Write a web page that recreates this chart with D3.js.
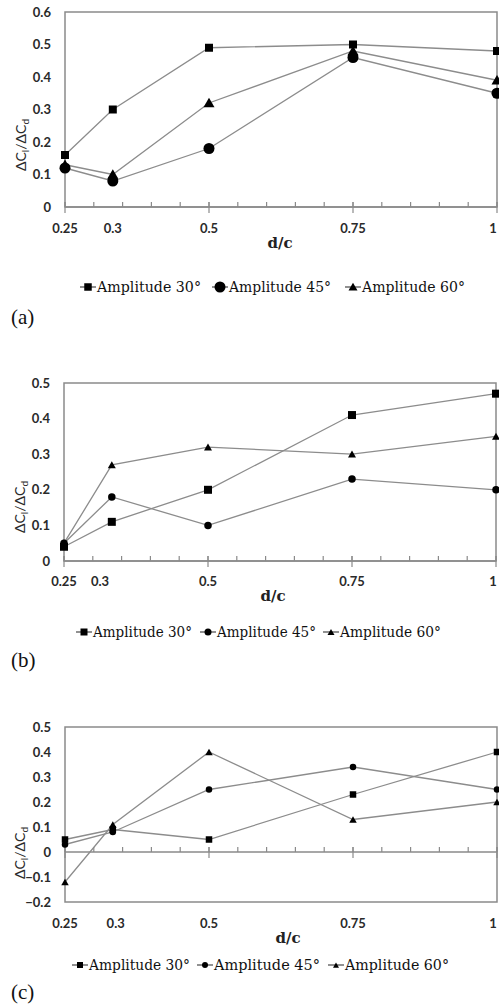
<!DOCTYPE html>
<html>
<head>
<meta charset="utf-8">
<script src="https://cdn.jsdelivr.net/npm/d3@7"></script>
<style>
  html, body { margin: 0; padding: 0; background: #fff; }
  svg { display: block; }
</style>
</head>
<body>
<svg id="fig" width="499" height="1004"></svg>
<script>
// d/c positions of the measurements and the labels printed under them
const dcValues = [0.25, 0.333, 0.5, 0.75, 1];
const dcTickLabels = ["0.25", "0.3", "0.5", "0.75", "1"];
const seriesNames = ["Amplitude 30°", "Amplitude 45°", "Amplitude 60°"];
const seriesNamesC = ["Amplitude 30°", "Amplitude  45°", "Amplitude  60°"];

// (a) lift-to-drag gain ratio
const a30 = [0.16, 0.30, 0.49, 0.50, 0.48];
const a45 = [0.12, 0.08, 0.18, 0.46, 0.35];
const a60 = [0.13, 0.10, 0.32, 0.48, 0.39];
const aYTicks = [0, 0.1, 0.2, 0.3, 0.4, 0.5, 0.6];

// (b)
const b30 = [0.04, 0.11, 0.20, 0.41, 0.47];
const b45 = [0.05, 0.18, 0.10, 0.23, 0.20];
const b60 = [0.05, 0.27, 0.32, 0.30, 0.35];
const bYTicks = [0, 0.1, 0.2, 0.3, 0.4, 0.5];

// (c)
const c30 = [0.05, 0.09, 0.05, 0.23, 0.40];
const c45 = [0.03, 0.08, 0.25, 0.34, 0.25];
const c60 = [-0.12, 0.11, 0.40, 0.13, 0.20];
const cYTicks = [-0.2, -0.1, 0, 0.1, 0.2, 0.3, 0.4, 0.5];

const svg = d3.select("#fig");
const frameColor = "#8a8a8a";
const lineColor = "#8c8c8c";
const tickFont = "Lato, 'Open Sans', sans-serif";
const serifFont = "'DejaVu Serif', serif";

const shapes = [d3.symbolSquare, d3.symbolCircle, d3.symbolTriangle];
// convert a visual width (px) into a d3.symbol area
function symbolArea(shape, w) {
  if (shape === d3.symbolSquare) return w * w;
  if (shape === d3.symbolCircle) return Math.PI * (w / 2) * (w / 2);
  return Math.sqrt(3) / 4 * w * w;
}

function drawPanel(cfg) {
  const g = svg.append("g");
  const x = d3.scaleLinear().domain([0.25, 1]).range([cfg.left, cfg.right]);
  const y = d3.scaleLinear().domain(cfg.yDomain).range([cfg.bottom, cfg.top]);

  // plot frame
  g.append("rect")
    .attr("x", cfg.left).attr("y", cfg.top)
    .attr("width", cfg.right - cfg.left).attr("height", cfg.bottom - cfg.top)
    .attr("fill", "none").attr("stroke", frameColor).attr("stroke-width", 1.5);

  // horizontal axis drawn at zero
  const y0 = y(0);
  g.append("line")
    .attr("x1", cfg.left).attr("x2", cfg.right)
    .attr("y1", y0).attr("y2", y0)
    .attr("stroke", frameColor).attr("stroke-width", 1.5);

  const minor = d3.ticks(0.25, 1, 15);
  g.selectAll(".minor").data(minor).join("line")
    .attr("x1", d => x(d)).attr("x2", d => x(d))
    .attr("y1", y0).attr("y2", y0 - 5)
    .attr("stroke", frameColor).attr("stroke-width", 1.2);
  const major = [0.25, 0.5, 0.75, 1];
  g.selectAll(".major").data(major).join("line")
    .attr("x1", d => x(d)).attr("x2", d => x(d))
    .attr("y1", y0 - 5).attr("y2", y0 + 6)
    .attr("stroke", frameColor).attr("stroke-width", 1.2);

  // y tick labels
  g.selectAll(".ylab").data(cfg.yTicks).join("text")
    .attr("x", cfg.left - 14).attr("y", d => y(d) + 4.5)
    .attr("text-anchor", "end")
    .attr("font-family", tickFont).attr("font-weight", 700)
    .attr("font-size", 13).attr("fill", "#2a2a2a")
    .text(d => d3.format("")(+d.toFixed(1)));

  // x tick labels (the last one is kept inside the page edge)
  g.selectAll(".xlab").data(dcTickLabels).join("text")
    .attr("x", (d, i) => Math.min(x(cfg.labelPos[i]), 493))
    .attr("y", cfg.xLabelY)
    .attr("text-anchor", "middle")
    .attr("font-family", tickFont).attr("font-weight", 700)
    .attr("font-size", 13).attr("fill", "#2a2a2a")
    .text(d => d);

  // axis titles
  g.append("text")
    .attr("x", cfg.titleX).attr("y", cfg.xLabelY + 15)
    .attr("text-anchor", "middle")
    .attr("font-family", serifFont).attr("font-weight", 700)
    .attr("font-size", 15).attr("fill", "#222")
    .text("d/c");

  const yt = g.append("text")
    .attr("transform", `translate(${cfg.yTitleX},${cfg.yTitleY}) rotate(-90)`)
    .attr("text-anchor", "middle")
    .attr("font-family", tickFont).attr("font-size", 14).attr("fill", "#2a2a2a");
  yt.append("tspan").text("ΔC");
  yt.append("tspan").attr("font-size", 10).attr("dy", 3).text("l");
  yt.append("tspan").attr("dy", -3).text("/ΔC");
  yt.append("tspan").attr("font-size", 10).attr("dy", 3).text("d");

  // series lines
  const line = d3.line().x((d, i) => x(dcValues[i])).y(d => y(d));
  cfg.series.forEach(s => {
    g.append("path").datum(s)
      .attr("d", line).attr("fill", "none")
      .attr("stroke", lineColor).attr("stroke-width", 1.3);
  });
  // series markers
  cfg.series.forEach((s, k) => {
    const sym = d3.symbol().type(shapes[k]).size(symbolArea(shapes[k], cfg.markerW[k]));
    g.selectAll(null).data(s).join("path")
      .attr("d", sym)
      .attr("transform", (d, i) => `translate(${x(dcValues[i])},${y(d) + (k === 2 ? 1 : 0)})`)
      .attr("fill", "#000");
  });

  // legend
  const lg = g.append("g");
  cfg.legendX.forEach((lx, k) => {
    const ly = cfg.legendY;
    lg.append("line")
      .attr("x1", lx).attr("x2", lx + 16).attr("y1", ly).attr("y2", ly)
      .attr("stroke", "#555").attr("stroke-width", 1.3);
    const sym = d3.symbol().type(shapes[k]).size(symbolArea(shapes[k], cfg.legendMarkerW[k]));
    lg.append("path").attr("d", sym)
      .attr("transform", `translate(${lx + 8},${ly + (k === 2 ? 1 : 0)})`).attr("fill", "#000");
    lg.append("text")
      .attr("x", lx + 17).attr("y", ly + 5)
      .attr("font-family", serifFont).attr("font-size", cfg.legendFont).attr("fill", "#111")
      .attr("textLength", cfg.legendTextW[k]).attr("lengthAdjust", "spacingAndGlyphs")
      .text(cfg.names[k]);
  });

  // panel letter
  g.append("text")
    .attr("x", 11).attr("y", cfg.letterY)
    .attr("font-family", "'Liberation Serif', 'Times New Roman', serif")
    .attr("font-size", 21).attr("fill", "#111")
    .text(cfg.letter);
}

drawPanel({
  left: 65, right: 497, top: 12, bottom: 207, yDomain: [0, 0.6], yTicks: aYTicks,
  series: [a30, a45, a60], names: seriesNames,
  labelPos: [0.25, 0.333, 0.5, 0.75, 1], xLabelY: 233, titleX: 280,
  yTitleX: 26, yTitleY: 145,
  markerW: [8, 11, 11], legendMarkerW: [7.5, 11, 9],
  legendX: [80, 212, 345], legendY: 287, legendFont: 14.5, legendTextW: [104, 102, 103],
  letter: "(a)", letterY: 324
});

drawPanel({
  left: 64, right: 496, top: 383, bottom: 561, yDomain: [0, 0.5], yTicks: bYTicks,
  series: [b30, b45, b60], names: seriesNames,
  labelPos: [0.25, 0.3125, 0.5, 0.75, 1], xLabelY: 586, titleX: 273,
  yTitleX: 25, yTitleY: 507,
  markerW: [8, 7.5, 8], legendMarkerW: [7, 7, 7],
  legendX: [76, 200, 323], legendY: 632, legendFont: 14, legendTextW: [99, 99, 101],
  letter: "(b)", letterY: 667
});

drawPanel({
  left: 65, right: 497, top: 727, bottom: 902, yDomain: [-0.2, 0.5], yTicks: cYTicks,
  series: [c30, c45, c60], names: seriesNamesC,
  labelPos: [0.25, 0.338, 0.5, 0.75, 1], xLabelY: 928, titleX: 288,
  yTitleX: 25, yTitleY: 853,
  markerW: [6.5, 6.5, 7.5], legendMarkerW: [6, 6, 6],
  legendX: [72, 197, 328], legendY: 965, legendFont: 14, legendTextW: [101, 106, 104],
  letter: "(c)", letterY: 999
});
</script>
</body>
</html>
